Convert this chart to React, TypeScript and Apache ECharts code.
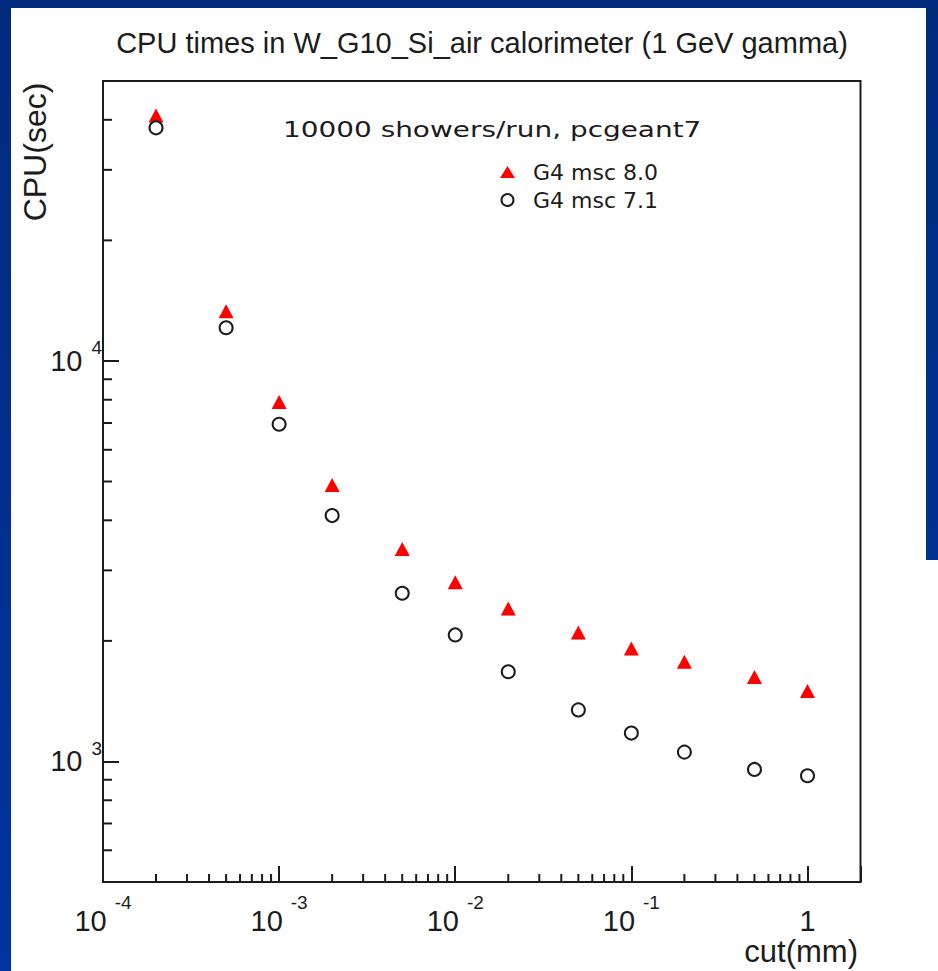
import React, { useEffect, useRef } from 'react';
import * as echarts from 'echarts';

// ---- data ----
const cutValues = [2e-4, 5e-4, 1e-3, 2e-3, 5e-3, 1e-2, 2e-2, 5e-2, 0.1, 0.2, 0.5, 1];
const cpuMsc80 = [41000, 13300, 7900, 4900, 3390, 2800, 2410, 2100, 1915, 1775, 1625, 1500];
const cpuMsc71 = [38200, 12100, 6950, 4110, 2630, 2070, 1675, 1345, 1177, 1055, 955, 921];
const seriesNames = ['G4 msc 8.0', 'G4 msc 7.1'];
const xRange = [1e-4, 2];
const yRange = [500, 50000];
const xMinorTicks = [
  2e-4, 3e-4, 4e-4, 5e-4, 6e-4, 7e-4, 8e-4, 9e-4,
  2e-3, 3e-3, 4e-3, 5e-3, 6e-3, 7e-3, 8e-3, 9e-3,
  2e-2, 3e-2, 4e-2, 5e-2, 6e-2, 7e-2, 8e-2, 9e-2,
  0.2, 0.3, 0.4, 0.5, 0.6, 0.7, 0.8, 0.9,
];
const yMinorTicks = [600, 700, 800, 900, 2000, 3000, 4000, 5000, 6000, 7000, 8000, 9000, 20000, 30000, 40000];
const titleText = 'CPU times in W_G10_Si_air calorimeter (1 GeV gamma)';
const noteText = '10000 showers/run, pcgeant7';
const xAxisTitle = 'cut(mm)';
const yAxisTitle = 'CPU(sec)';

const FONT = '"Liberation Sans", Arial, Helvetica, sans-serif';
const INK = '#1c1c1c';

const isPow10 = (v: number) => Math.abs(Math.log10(v) - Math.round(Math.log10(v))) < 1e-6;
const expOf = (v: number) => Math.round(Math.log10(v));

export default function App() {
  const ref = useRef<HTMLDivElement>(null);

  useEffect(() => {
    if (!ref.current) return;
    const chart = echarts.init(ref.current, null, { renderer: 'svg', width: 938, height: 971 });

    const minorTick = (dir: 'x' | 'y') => (params: any, api: any) => {
      const p = api.coord([api.value(0), api.value(1)]);
      const shape = dir === 'x'
        ? { x1: p[0], y1: p[1], x2: p[0], y2: p[1] - 8 }
        : { x1: p[0], y1: p[1], x2: p[0] + 9, y2: p[1] };
      return { type: 'line', shape, style: { stroke: INK, lineWidth: 2 } };
    };

    chart.setOption({
      animation: false,
      backgroundColor: 'transparent',
      grid: {
        left: 103, top: 81, width: 757.5, height: 801,
        show: true, borderColor: INK, borderWidth: 2, backgroundColor: 'transparent',
        containLabel: false, outerBoundsMode: 'none',
      },
      legend: {
        data: seriesNames,
        orient: 'vertical',
        left: 500, top: 161,
        itemWidth: 15, itemHeight: 12, itemGap: 6,
        padding: 0,
        selectedMode: false,
        textStyle: { fontFamily: '"DejaVu Sans", sans-serif', fontSize: 22, lineHeight: 22, color: INK, padding: [0, 0, 0, 13] },
      },
      xAxis: {
        type: 'log', logBase: 10, min: xRange[0], max: xRange[1],
        axisLine: { show: false },
        splitLine: { show: false },
        minorTick: { show: false },
        axisTick: { show: true, inside: true, length: 16, lineStyle: { color: INK, width: 2 } },
        axisLabel: {
          margin: 11,
          color: INK,
          fontFamily: FONT,
          formatter: (v: number) => {
            if (!isPow10(v)) return '';
            const e = expOf(v);
            return e === 0 ? '{one|1}' : `{b|10}{s|${e}}`;
          },
          rich: {
            b: { fontFamily: FONT, fontSize: 29, color: INK, verticalAlign: 'bottom' },
            one: { fontFamily: FONT, fontSize: 29, color: INK, verticalAlign: 'bottom', padding: [13, 0, 0, 0] },
            s: { fontFamily: FONT, fontSize: 19, color: INK, verticalAlign: 'top', padding: [0, 0, 23, 8] },
          },
        },
      },
      yAxis: {
        type: 'log', logBase: 10, min: yRange[0], max: yRange[1],
        axisLine: { show: false },
        splitLine: { show: false },
        minorTick: { show: false },
        axisTick: { show: true, inside: true, length: 16, lineStyle: { color: INK, width: 2 } },
        axisLabel: {
          margin: 1,
          color: INK,
          fontFamily: FONT,
          formatter: (v: number) => (isPow10(v) ? `{b|10}{s|${expOf(v)}}` : ''),
          rich: {
            b: { fontFamily: FONT, fontSize: 29, color: INK, verticalAlign: 'middle' },
            s: { fontFamily: FONT, fontSize: 19, color: INK, verticalAlign: 'top', padding: [0, 0, 26, 9] },
          },
        },
      },
      series: [
        {
          type: 'custom', name: 'xMinor', coordinateSystem: 'cartesian2d', silent: true, clip: false, z: 3,
          data: xMinorTicks.map((v) => [v, yRange[0]]),
          renderItem: minorTick('x'),
        },
        {
          type: 'custom', name: 'yMinor', coordinateSystem: 'cartesian2d', silent: true, clip: false, z: 3,
          data: yMinorTicks.map((v) => [xRange[0], v]),
          renderItem: minorTick('y'),
        },
        {
          type: 'scatter', name: seriesNames[0], z: 4,
          data: cutValues.map((x, i) => [x, cpuMsc80[i]]),
          symbol: 'triangle', symbolSize: [15, 14],
          itemStyle: { color: '#ff0000', opacity: 1 },
        },
        {
          type: 'scatter', name: seriesNames[1], z: 5,
          data: cutValues.map((x, i) => [x, cpuMsc71[i]]),
          symbol: 'emptyCircle', symbolSize: 13,
          itemStyle: { color: INK, borderColor: INK, borderWidth: 2, opacity: 1 },
        },
      ],
      graphic: [
        {
          type: 'text', x: 482, y: 43,
          style: { text: titleText, font: `29px ${FONT}`, fill: INK, align: 'center', verticalAlign: 'middle', textAlign: 'center', textVerticalAlign: 'middle' },
        },
        {
          type: 'text', x: 283, y: 129.5, scaleX: 1.33,
          style: { text: noteText, font: '21px "DejaVu Sans", sans-serif', fill: INK, align: 'left', verticalAlign: 'middle', textAlign: 'left', textVerticalAlign: 'middle' },
        },
        {
          type: 'text', x: 35, y: 152, rotation: Math.PI / 2,
          style: { text: yAxisTitle, font: `32px ${FONT}`, fill: INK, align: 'center', verticalAlign: 'middle', textAlign: 'center', textVerticalAlign: 'middle' },
        },
        {
          type: 'text', x: 858, y: 951,
          style: { text: xAxisTitle, font: `31px ${FONT}`, fill: INK, align: 'right', verticalAlign: 'middle', textAlign: 'right', textVerticalAlign: 'middle' },
        },
      ],
    });

    return () => chart.dispose();
  }, []);

  return (
    <div style={{ position: 'absolute', left: 0, top: 0, width: 938, height: 971, overflow: 'hidden', background: 'linear-gradient(180deg, #002a7c 0%, #0034a0 100%)' }}>
      <div style={{ position: 'absolute', left: 11, top: 8, width: 915, height: 963, background: '#fff' }} />
      <div style={{ position: 'absolute', left: 920, top: 560, width: 18, height: 411, background: '#fff' }} />
      <div ref={ref} style={{ position: 'absolute', left: 0, top: 0, width: 938, height: 971 }} />
    </div>
  );
}
